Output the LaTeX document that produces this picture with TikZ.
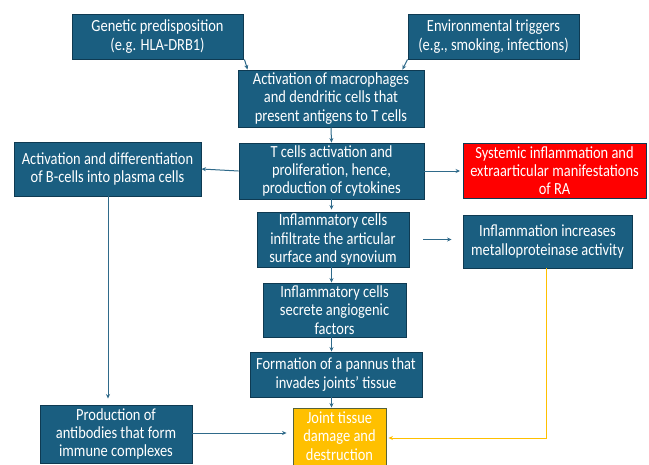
\documentclass[tikz,border=0pt]{standalone}
\usepackage{fontspec}
\setmainfont[FakeStretch=0.85]{Carlito}
\usetikzlibrary{arrows.meta}
\definecolor{boxblue}{HTML}{1A5E80}
\definecolor{boxedge}{HTML}{0E3A52}
\definecolor{arrowblue}{HTML}{2F6A8A}
\definecolor{redfill}{HTML}{FF0000}
\definecolor{yellowfill}{HTML}{FFC000}
\definecolor{yellowline}{HTML}{FFC000}
\tikzset{
  x=1pt, y=-1pt,
  bx/.style={draw=boxedge, line width=0.9pt, fill=boxblue, text=white, align=center,
    inner sep=0pt, font=\fontsize{17}{18.3}\selectfont},
  redbx/.style={bx, fill=redfill},
  yelbx/.style={bx, fill=yellowfill, draw=boxedge!70!yellowfill},
  arr/.style={draw=arrowblue, line width=1pt, -{Stealth[length=4.5pt,width=4pt]}},
  yarr/.style={draw=yellowline, line width=1pt, -{Stealth[length=4.5pt,width=4pt]}},
}
\begin{document}
\begin{tikzpicture}
\useasboundingbox[fill=white] (0,0) rectangle (649,464);
\node[bx, minimum width=171pt, minimum height=45pt] (gen) at (157.5,36.5) {Genetic predisposition\\(e.g. HLA-DRB1)};
\node[bx, minimum width=171pt, minimum height=45pt] (env) at (493.5,36.5) {Environmental triggers\\(e.g., smoking, infections)};
\node[bx, minimum width=186pt, minimum height=57pt] (act) at (331,98.5) {Activation of macrophages\\and dendritic cells that\\present antigens to T cells};
\node[bx, minimum width=185pt, minimum height=56pt] (tc) at (331.5,171) {T cells activation and\\proliferation, hence,\\production of cytokines};
\node[bx, minimum width=187pt, minimum height=54pt] (bc) at (107.5,169) {Activation and differentiation\\of B-cells into plasma cells};
\node[redbx, minimum width=183pt, minimum height=55pt] (sys) at (554.5,170.5) {Systemic inflammation and\\extraarticular manifestations\\of RA};
\node[bx, minimum width=152pt, minimum height=55pt] (inf) at (333,239.5) {Inflammatory cells\\infiltrate the articular\\surface and synovium};
\node[bx, minimum width=169pt, minimum height=53pt] (met) at (547.5,241.5) {Inflammation increases\\metalloproteinase activity};
\node[bx, minimum width=143pt, minimum height=54pt] (sec) at (334.5,310) {Inflammatory cells\\secrete angiogenic\\factors};
\node[bx, minimum width=172pt, minimum height=45pt] (pan) at (336,374.5) {Formation of a pannus that\\invades joints’ tissue};
\node[bx, minimum width=152pt, minimum height=58pt] (pro) at (116,434) {Production of\\antibodies that form\\immune complexes};
\node[yelbx, minimum width=93pt, minimum height=60pt] (joi) at (339.5,438) {};
\node[bx, draw=none, fill=none] (joitext) at (339.5,436) {Joint tissue\\damage and\\destruction};
% connectors
\draw[arr] ([xshift=1pt]gen.south east) -- ([xshift=10pt]act.north west);
\draw[arr] (env.south west) -- ([xshift=-22pt]act.north east);
\draw[arr] (act.south) -- (tc.north);
\draw[arr] (tc.west) -- (bc.east);
\draw[arr, shorten >=2.5pt] (tc.east) -- (sys.west |- tc.east);
\draw[arr, shorten >=2pt] (tc.south) -- (inf.north -| tc.south);
\draw[arr, shorten <=14pt, shorten >=11pt] (inf.east) -- (met.west |- inf.east);
\draw[arr] (inf.south -| tc.south) -- (sec.north -| tc.south);
\draw[arr] (sec.south -| tc.south) -- (pan.north -| tc.south);
\draw[arr] (pan.south -| tc.south) -- (joi.north -| tc.south);
\draw[arr, shorten >=6pt] ([xshift=0.5pt]bc.south) -- ([xshift=0.5pt]bc.south |- pro.north);
\draw[arr, shorten >=6pt] (pro.east |- 0,433) -- (joi.west |- 0,433);
\draw[yarr, shorten >=2pt] ([xshift=-1.5pt]met.south) |- (joi.east);
\end{tikzpicture}
\end{document}
